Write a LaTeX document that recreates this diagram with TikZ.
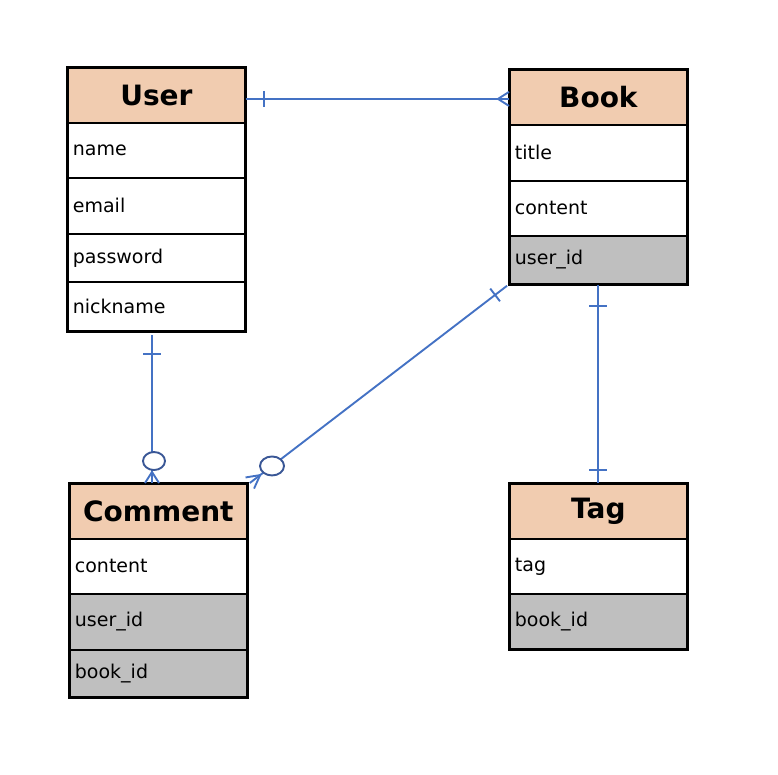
\documentclass[tikz,border=0pt]{standalone}
\usepackage{fontspec}
\usetikzlibrary{calc}
\newfontfamily\erfont{DejaVu Sans}
\definecolor{hdrc}{HTML}{F1CCB0}
\definecolor{keyc}{HTML}{BFBFBF}
\definecolor{relc}{HTML}{4472C4}
\definecolor{circc}{HTML}{3A5796}
\tikzset{
  hdr/.style={draw, line width=1.8pt, fill=hdrc, anchor=north west, inner sep=0pt,
    minimum width=177pt, minimum height=55pt, font=\erfont\bfseries\fontsize{28}{30}\selectfont},
  fld/.style={draw, line width=1.8pt, anchor=north west, inner xsep=5pt, inner ysep=0pt,
    text width=167pt, align=left, font=\erfont\fontsize{19}{21}\selectfont},
  keyfld/.style={fld, fill=keyc},
  frame/.style={draw, line width=3pt},
  rel/.style={draw=relc, line width=1.9pt},
  crc/.style={draw=circc, line width=1.9pt}
}
\begin{document}
\begin{tikzpicture}[x=1pt,y=-1pt]
\useasboundingbox (0,0) rectangle (778,774);
% User
\node[hdr] (uh) at (67,67) {User};
\node[fld, minimum height=55pt] (un) at (67,122) {name};
\node[fld, minimum height=56pt] (ue) at (67,177) {email};
\node[fld, minimum height=48pt] (up) at (67,233) {password};
\node[fld, minimum height=49pt] (uk) at (67,281) {nickname};
\draw[frame] (uh.north west) rectangle (uk.south east);
% Book
\node[hdr] (bh) at (509,69) {Book};
\node[fld, minimum height=56pt] (bt) at (509,124) {title};
\node[fld, minimum height=55pt] (bc) at (509,180) {content};
\node[keyfld, minimum height=48pt] (bu) at (509,235) {user\_id};
\draw[frame] (bh.north west) rectangle (bu.south east);
% Comment
\node[hdr] (ch) at (69,483) {Comment};
\node[fld, minimum height=55pt] (cc) at (69,538) {content};
\node[keyfld, minimum height=56pt] (cu) at (69,593) {user\_id};
\node[keyfld, minimum height=47pt] (cb) at (69,649) {book\_id};
\draw[frame] (ch.north west) rectangle (cb.south east);
% Tag
\node[hdr] (th) at (509,483) {Tag};
\node[fld, minimum height=55pt] (tt) at (509,538) {tag};
\node[keyfld, minimum height=55pt] (tb) at (509,593) {book\_id};
\draw[frame] (th.north west) rectangle (tb.south east);

% Relation 1: User -- Book (one to many)
\coordinate (r1a) at ($(uh.east)+(0,3.5)$);
\coordinate (r1b) at (r1a -| bh.west);
\draw[rel] (r1a) -- (r1b);
\draw[rel] ($(r1a)+(18,-8)$) -- ($(r1a)+(18,8)$);
\draw[rel] ($(r1b)+(0,-7)$) -- ($(r1b)+(-11,0)$) -- ($(r1b)+(0,7)$);

% Relation 2: User -- Comment (one to zero-or-many)
\coordinate (r2a) at ($(uk.south west)+(85,3)$);
\coordinate (r2b) at (r2a |- ch.north);
\draw[rel] (r2a) -- (r2b);
\draw[rel] ($(r2a)+(-9,19)$) -- ($(r2a)+(9,19)$);
\draw[rel] ($(r2b)+(-7,0)$) -- ($(r2b)+(0,-11)$) -- ($(r2b)+(7,0)$);
\draw[crc, fill=white] ($(r2b)+(2,-22)$) ellipse[x radius=11, y radius=9];

% Relation 3: Book -- Comment (one to zero-or-many)
\coordinate (r3a) at ($(bu.south west)+(-2,1)$);
\coordinate (r3b) at ($(ch.north east)+(2,0)$);
\draw[rel] (r3a) -- (r3b);
\coordinate (t3) at ($(r3a)!15pt!(r3b)$);
\draw[rel] ($(t3)!8pt!90:(r3b)$) -- ($(t3)!8pt!-90:(r3b)$);
\coordinate (f3) at ($(r3b)!13pt!(r3a)$);
\draw[rel] ($(r3b)!7pt!90:(r3a)$) -- (f3) -- ($(r3b)!7pt!-90:(r3a)$);
\draw[crc, fill=white] ($(r3b)!28pt!(r3a)$) ellipse[x radius=12, y radius=9.5];

% Relation 4: Book -- Tag (one to one)
\coordinate (r4a) at (bu.south);
\coordinate (r4b) at (r4a |- th.north);
\draw[rel] (r4a) -- (r4b);
\draw[rel] ($(r4a)+(-9,21)$) -- ($(r4a)+(9,21)$);
\draw[rel] ($(r4b)+(-9,-13)$) -- ($(r4b)+(9,-13)$);
\end{tikzpicture}
\end{document}
